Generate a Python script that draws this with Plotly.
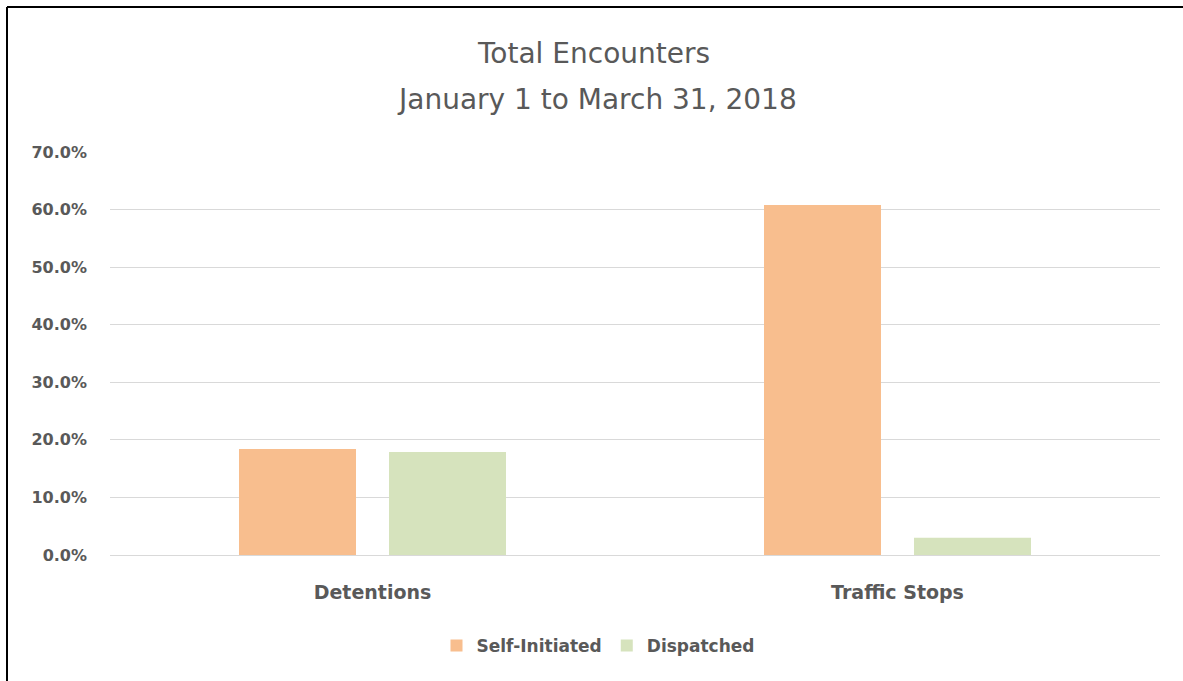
import plotly.graph_objects as go

categories = ["Detentions", "Traffic Stops"]
self_initiated = [18.4, 60.8]
dispatched = [17.9, 3.0]
tick_vals = [0, 10, 20, 30, 40, 50, 60, 70]
tick_text = ["0.0%", "10.0%", "20.0%", "30.0%", "40.0%", "50.0%", "60.0%", "70.0%"]

W, H = 1183, 681
ML, MR, MT, MB = 110, 23, 152, 126
PW, PH = W - ML - MR, H - MT - MB

FONT = "DejaVu Sans"
GRAY = "#595959"

fig = go.Figure()
fig.add_trace(go.Bar(name="Self-Initiated", x=categories, y=self_initiated,
                     marker=dict(color="#F8BE8E", line=dict(width=0))))
fig.add_trace(go.Bar(name="Dispatched", x=categories, y=dispatched,
                     marker=dict(color="#D6E3BD", line=dict(width=0))))

def px_x(x):
    return (x - ML) / PW

def px_y(y):
    return (H - MB - y) / PH

fig.update_layout(
    width=W, height=H,
    margin=dict(l=ML, r=MR, t=MT, b=MB),
    paper_bgcolor="white", plot_bgcolor="white",
    barmode="group", bargap=0.4286, bargroupgap=0.22,
    font=dict(family=FONT, color=GRAY),
    showlegend=True,
    legend=dict(orientation="h", x=px_x(598), xanchor="center", y=px_y(646), yanchor="middle",
                font=dict(size=17, color=GRAY, family=FONT, weight="bold"),
                traceorder="normal"),
    xaxis=dict(showline=False, ticks="", showgrid=False,
               tickfont=dict(size=19, color=GRAY, family=FONT, weight="bold"),
               ticklabelstandoff=24),
    yaxis=dict(range=[0, 70], tickvals=tick_vals, ticktext=tick_text,
               showgrid=True, gridcolor="#D9D9D9", gridwidth=1, zeroline=True,
               zerolinecolor="#D9D9D9", zerolinewidth=1, showline=False, ticks="",
               tickfont=dict(size=16, color=GRAY, family=FONT, weight="bold"),
               ticklabelstandoff=22),
    shapes=[
        dict(type="line", xref="paper", yref="paper", x0=px_x(7), x1=px_x(1200), y0=px_y(7), y1=px_y(7),
             line=dict(color="black", width=2)),
        dict(type="line", xref="paper", yref="paper", x0=px_x(7), x1=px_x(7), y0=px_y(7), y1=px_y(700),
             line=dict(color="black", width=2)),
    ],
    annotations=[
        dict(text="Total Encounters", xref="paper", yref="paper", x=px_x(593), y=px_y(54),
             xanchor="center", yanchor="middle", showarrow=False,
             font=dict(size=28, color=GRAY, family=FONT)),
        dict(text="January 1 to March 31, 2018", xref="paper", yref="paper", x=px_x(597), y=px_y(100),
             xanchor="center", yanchor="middle", showarrow=False,
             font=dict(size=28, color=GRAY, family=FONT)),
    ],
)
fig.write_html("out.html", config={"displayModeBar": False},
               post_script="document.body.style.margin='0';document.body.style.overflow='hidden';")
